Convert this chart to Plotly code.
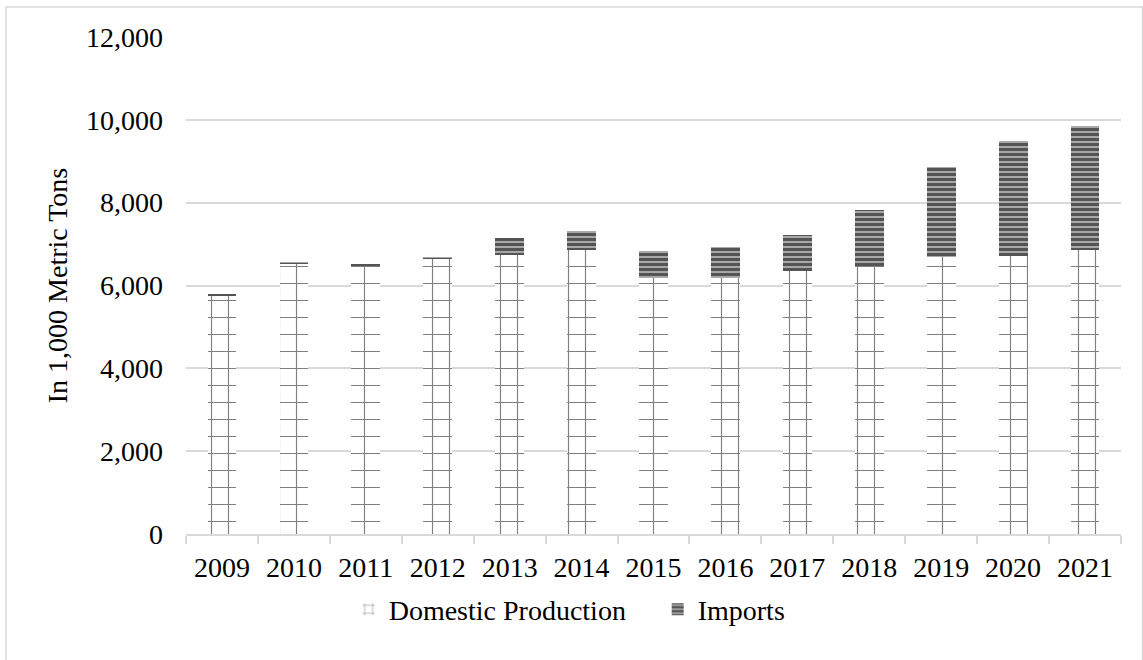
import plotly.graph_objects as go

# Supply by year, in 1,000 metric tons
years = ["2009", "2010", "2011", "2012", "2013", "2014", "2015",
         "2016", "2017", "2018", "2019", "2020", "2021"]
domestic_production = [5765, 6530, 6490, 6650, 6725, 6860, 6180,
                       6180, 6340, 6460, 6700, 6720, 6860]
imports = [20, 25, 20, 50, 420, 460, 660, 755, 885, 1360, 2150, 2780, 2980]

y_ticks = [0, 2000, 4000, 6000, 8000, 10000, 12000]

FONT = "Times New Roman, Liberation Serif, serif"
GRID = "#d9d9d9"

fig = go.Figure()
fig.add_trace(go.Bar(
    x=years, y=domestic_production, name="Domestic Production",
    marker=dict(color="white", line=dict(width=0),
                pattern=dict(shape="+", size=17, solidity=0.13,
                             fgcolor="black", bgcolor="white")),
))
fig.add_trace(go.Bar(
    x=years, y=imports, name="Imports",
    marker=dict(color="#999999", line=dict(width=0),
                pattern=dict(shape="-", size=5, solidity=0.6,
                             fgcolor="black", bgcolor="#a8a8a8")),
))

fig.update_layout(
    width=1143, height=660, autosize=False,
    barmode="stack", bargap=0.6,
    paper_bgcolor="white", plot_bgcolor="white",
    margin=dict(l=186, r=22, t=37, b=126),
    font=dict(family=FONT, size=28, color="black"),
    showlegend=True,
    legend=dict(orientation="h", x=0.174, xanchor="left",
                y=-0.152, yanchor="middle",
                font=dict(family=FONT, size=28, color="black"),
                entrywidth=264, entrywidthmode="pixels",
                traceorder="normal"),
    shapes=[dict(type="rect", xref="paper", yref="paper",
                 x0=-0.1925, x1=1.023, y0=-0.4, y1=1.0603,
                 line=dict(color=GRID, width=1.5), layer="below")],
)

fig.update_xaxes(
    type="category", showgrid=False, showline=True,
    linecolor=GRID, linewidth=1.5,
    ticks="outside", tickson="boundaries", ticklen=8,
    tickcolor=GRID, tickwidth=1.5,
    tickfont=dict(family=FONT, size=28), ticklabelstandoff=8,
)
fig.update_yaxes(
    range=[0, 12000], tickvals=y_ticks, tickformat=",d",
    showgrid=True, gridcolor=GRID, gridwidth=1.5,
    zeroline=False, showline=False, ticks="",
    tickfont=dict(family=FONT, size=28), ticklabelstandoff=22,
    title=dict(text="In 1,000 Metric Tons",
               font=dict(family=FONT, size=28), standoff=10),
)

fig.write_html("out.html")
